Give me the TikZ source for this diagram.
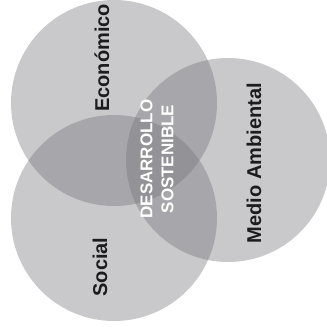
\documentclass[tikz,border=0pt]{standalone}
\usepackage{fontspec}
\setsansfont{Liberation Sans}
\definecolor{gris}{RGB}{112,112,118}
\definecolor{texte}{RGB}{28,28,30}
\tikzset{%
    Cercle/.style={%
        fill=gris,
        fill opacity=.38
    },
    Titre/.style={%
        font=\sffamily\bfseries\fontsize{20}{24}\selectfont,
        text=texte,
        rotate=90,
        inner sep=0pt
    },
    Centre/.style={%
        font=\sffamily\bfseries\fontsize{17}{21}\selectfont,
        text=white,
        align=center,
        rotate=90,
        inner sep=0pt
    }
}

\begin{document}
\begin{tikzpicture}[x=1pt,y=-1pt]
\useasboundingbox (0,0) rectangle (326,334) ;

% centres des trois cercles
\coordinate (E) at (114,103) ;
\coordinate (S) at (114,218) ;
\coordinate (M) at (228,160) ;

\fill[Cercle] (E) circle (103) ;
\fill[Cercle] (S) circle (103) ;
\fill[Cercle] (M) circle (102) ;

\node[Titre] (economico) at (102,58) {Económico} ;
\node[Titre] (social) at (100,267) {Social} ;
\node[Titre] (medio) at (254,163) {Medio Ambiental} ;

\node[Centre] (desarrollo) at (157,159) {DESARROLLO\\SOSTENIBLE} ;

\end{tikzpicture}
\end{document}
